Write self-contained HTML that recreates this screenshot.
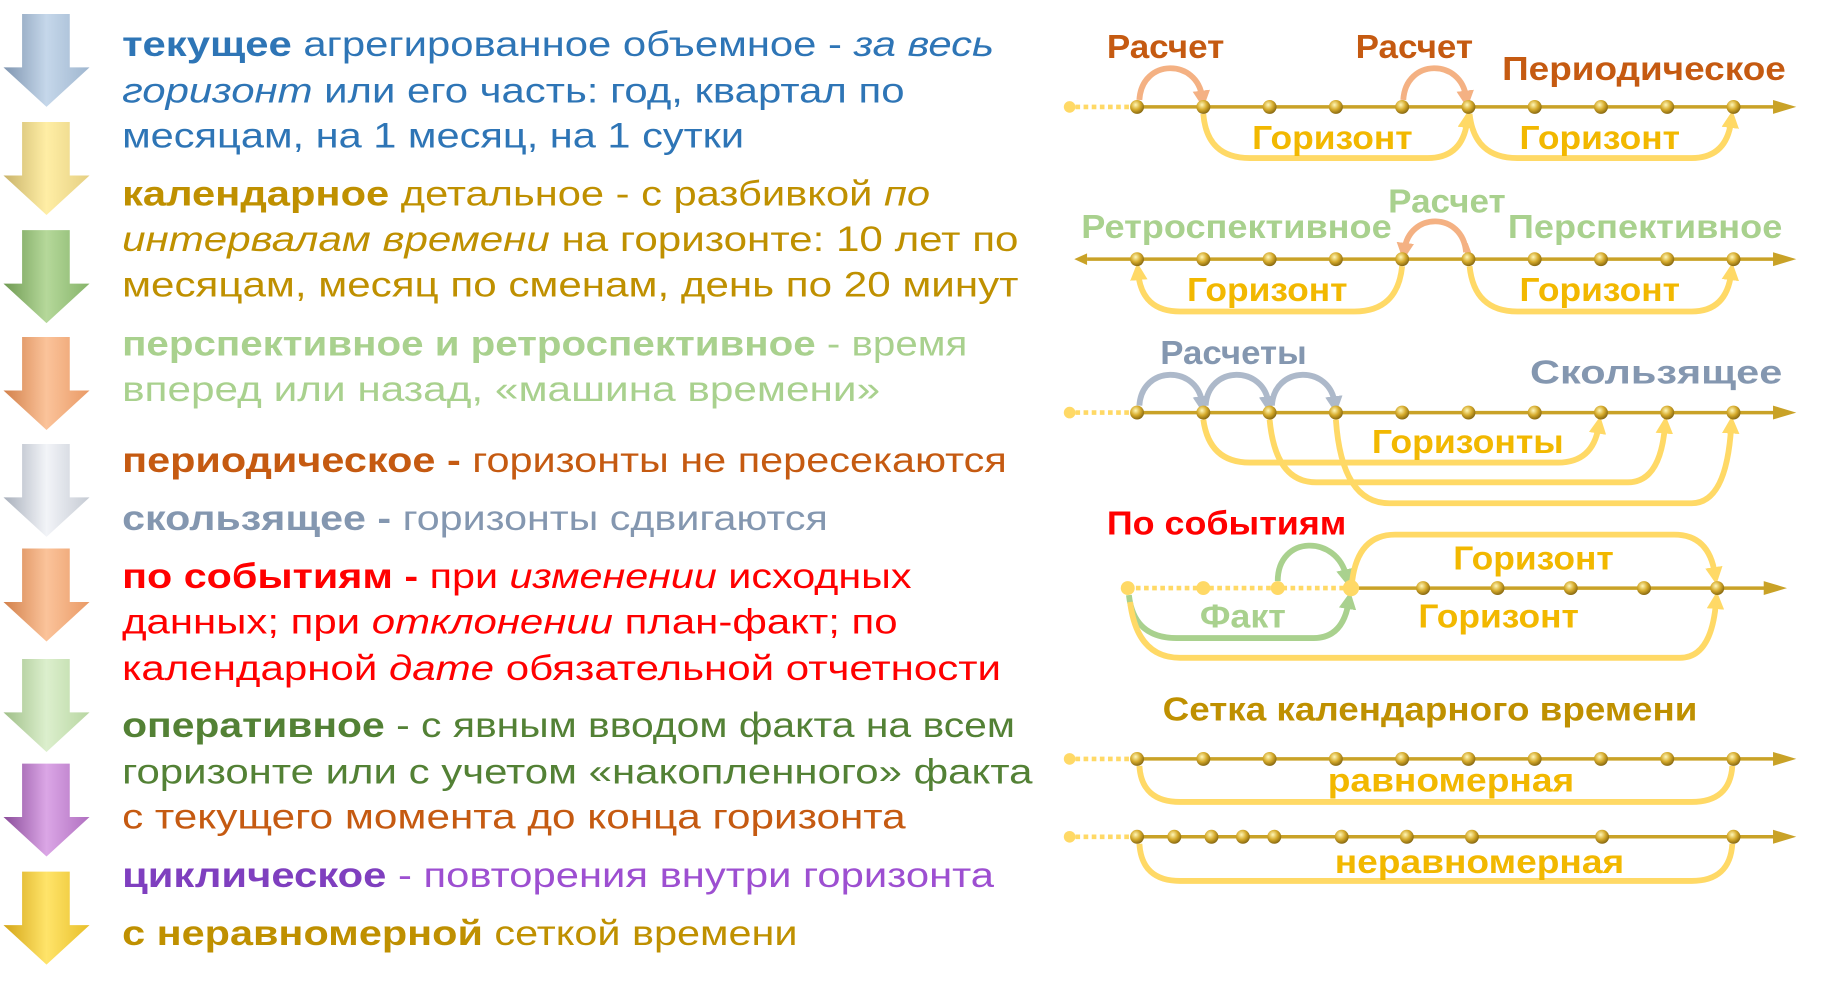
<!DOCTYPE html>
<html><head><meta charset="utf-8"><style>
html,body{margin:0;padding:0;background:#fff;width:1821px;height:986px;overflow:hidden}
svg{display:block}
text{font-family:"Liberation Sans",sans-serif}
.l{font-size:30px}
.r{font-size:29px;font-weight:bold}
</style></head><body>
<svg width="1821" height="986" viewBox="0 0 1560 845" preserveAspectRatio="none" xmlns="http://www.w3.org/2000/svg">
<defs>
<radialGradient id="bd" cx="0.4" cy="0.35" r="0.7"><stop offset="0" stop-color="#fff7b8"/><stop offset="0.5" stop-color="#d6ab2c"/><stop offset="1" stop-color="#7d5f0c"/></radialGradient>
<marker id="my" markerWidth="3" markerHeight="3" refX="1.2" refY="1.5" orient="auto"><path d="M0,0 L3,1.5 L0,3z" fill="#ffd966"/></marker>
<marker id="mo" markerWidth="3" markerHeight="3" refX="1.2" refY="1.5" orient="auto"><path d="M0,0 L3,1.5 L0,3z" fill="#f4b183"/></marker>
<marker id="mg" markerWidth="3" markerHeight="3" refX="1.2" refY="1.5" orient="auto"><path d="M0,0 L3,1.5 L0,3z" fill="#a9d18e"/></marker>
<marker id="mb" markerWidth="3" markerHeight="3" refX="1.2" refY="1.5" orient="auto"><path d="M0,0 L3,1.5 L0,3z" fill="#adb9ca"/></marker>
<linearGradient id="g1" x1="0" x2="1"><stop offset="0" stop-color="#7f95b0"/><stop offset="0.5" stop-color="#c5d7ea"/><stop offset="1" stop-color="#9fb6cf"/></linearGradient>
<linearGradient id="g2" x1="0" x2="1"><stop offset="0" stop-color="#c9b36a"/><stop offset="0.5" stop-color="#ffeea5"/><stop offset="1" stop-color="#e5cf82"/></linearGradient>
<linearGradient id="g3" x1="0" x2="1"><stop offset="0" stop-color="#6f9a52"/><stop offset="0.5" stop-color="#b5d89a"/><stop offset="1" stop-color="#86b46a"/></linearGradient>
<linearGradient id="g4" x1="0" x2="1"><stop offset="0" stop-color="#d2804a"/><stop offset="0.5" stop-color="#fbc39a"/><stop offset="1" stop-color="#e99a66"/></linearGradient>
<linearGradient id="g5" x1="0" x2="1"><stop offset="0" stop-color="#a8afbb"/><stop offset="0.5" stop-color="#f2f4f8"/><stop offset="1" stop-color="#c5cad3"/></linearGradient>
<linearGradient id="g6" x1="0" x2="1"><stop offset="0" stop-color="#9fbf88"/><stop offset="0.5" stop-color="#dcefcd"/><stop offset="1" stop-color="#b8d6a2"/></linearGradient>
<linearGradient id="g7" x1="0" x2="1"><stop offset="0" stop-color="#8a4c9a"/><stop offset="0.5" stop-color="#dba6e6"/><stop offset="1" stop-color="#b070c0"/></linearGradient>
<linearGradient id="g8" x1="0" x2="1"><stop offset="0" stop-color="#d4a516"/><stop offset="0.5" stop-color="#ffe46a"/><stop offset="1" stop-color="#e8bf2a"/></linearGradient>
<path id="arr" d="M19,0 L60,0 L60,46 L77,46 L40,80 L3,46 L19,46 Z"/>
</defs>
<g transform="scale(0.996)">
<!-- left arrows -->
<use href="#arr" x="0" y="12" fill="url(#g1)"/>
<use href="#arr" x="0" y="105" fill="url(#g2)"/>
<use href="#arr" x="0" y="198" fill="url(#g3)"/>
<use href="#arr" x="0" y="290" fill="url(#g4)"/>
<use href="#arr" x="0" y="382" fill="url(#g5)"/>
<use href="#arr" x="0" y="472" fill="url(#g4)"/>
<use href="#arr" x="0" y="567" fill="url(#g6)"/>
<use href="#arr" x="0" y="657" fill="url(#g7)"/>
<use href="#arr" x="0" y="750" fill="url(#g8)"/>

<!-- left text -->
<g class="l">
<text x="105" y="48" fill="#2e75b6" textLength="750" lengthAdjust="spacingAndGlyphs"><tspan font-weight="bold">текущее</tspan> агрегированное объемное - <tspan font-style="italic">за весь</tspan></text>
<text x="105" y="88" fill="#2e75b6" textLength="673" lengthAdjust="spacingAndGlyphs"><tspan font-style="italic">горизонт</tspan> или его часть: год, квартал по</text>
<text x="105" y="127" fill="#2e75b6" textLength="535" lengthAdjust="spacingAndGlyphs">месяцам, на 1 месяц, на 1 сутки</text>
<text x="105" y="177" fill="#bf9000" textLength="695" lengthAdjust="spacingAndGlyphs"><tspan font-weight="bold">календарное</tspan> детальное - с разбивкой <tspan font-style="italic">по</tspan></text>
<text x="105" y="216" fill="#bf9000" textLength="771" lengthAdjust="spacingAndGlyphs"><tspan font-style="italic">интервалам времени</tspan> на горизонте: 10 лет по</text>
<text x="105" y="255" fill="#bf9000" textLength="771" lengthAdjust="spacingAndGlyphs">месяцам, месяц по сменам, день по 20 минут</text>
<text x="105" y="306" fill="#a9d18e" textLength="727" lengthAdjust="spacingAndGlyphs"><tspan font-weight="bold">перспективное и ретроспективное</tspan> - время</text>
<text x="105" y="345" fill="#a9d18e" textLength="652" lengthAdjust="spacingAndGlyphs">вперед или назад, «машина времени»</text>
<text x="105" y="406" fill="#c55a11" textLength="761" lengthAdjust="spacingAndGlyphs"><tspan font-weight="bold">периодическое -</tspan> горизонты не пересекаются</text>
<text x="105" y="456" fill="#8497b0" textLength="607" lengthAdjust="spacingAndGlyphs"><tspan font-weight="bold">скользящее -</tspan> горизонты сдвигаются</text>
<text x="105" y="506" fill="#ff0000" textLength="679" lengthAdjust="spacingAndGlyphs"><tspan font-weight="bold">по событиям -</tspan> при <tspan font-style="italic">изменении</tspan> исходных</text>
<text x="105" y="545" fill="#ff0000" textLength="667" lengthAdjust="spacingAndGlyphs">данных; при <tspan font-style="italic">отклонении</tspan> план-факт; по</text>
<text x="105" y="585" fill="#ff0000" textLength="756" lengthAdjust="spacingAndGlyphs">календарной <tspan font-style="italic">дате</tspan> обязательной отчетности</text>
<text x="105" y="634" fill="#538135" textLength="768" lengthAdjust="spacingAndGlyphs"><tspan font-weight="bold">оперативное</tspan> - с явным вводом факта на всем</text>
<text x="105" y="674" fill="#538135" textLength="783" lengthAdjust="spacingAndGlyphs">горизонте или с учетом «накопленного» факта</text>
<text x="105" y="713" fill="#c55a11" textLength="674" lengthAdjust="spacingAndGlyphs">с текущего момента до конца горизонта</text>
<text x="105" y="763" fill="#9d4fd1" textLength="750" lengthAdjust="spacingAndGlyphs"><tspan font-weight="bold" fill="#7f3fbf">циклическое</tspan> - повторения внутри горизонта</text>
<text x="105" y="813" fill="#bf9000" textLength="581" lengthAdjust="spacingAndGlyphs"><tspan font-weight="bold">с неравномерной</tspan> сеткой времени</text>
</g>

<!-- ROW 1 -->
<g>
<line x1="925" y1="92" x2="978" y2="92" stroke="#ffd966" stroke-width="4" stroke-dasharray="4,3"/>
<circle cx="920" cy="92" r="5" fill="#ffd966"/>
<line x1="978" y1="92" x2="1535" y2="92" stroke="#c9a227" stroke-width="3"/>
<path d="M1525,86 L1545,92 L1525,98 Z" fill="#c9a227"/>
<path d="M980,86 C982,50 1030,50 1034,84" fill="none" stroke="#f4b183" stroke-width="5" marker-end="url(#mo)"/>
<path d="M1207,86 C1209,50 1257,50 1261,84" fill="none" stroke="#f4b183" stroke-width="5" marker-end="url(#mo)"/>
<path d="M1035,98 Q1038,136 1075,136 L1228,136 Q1258,136 1262,104" fill="none" stroke="#ffd966" stroke-width="5" marker-end="url(#my)"/>
<path d="M1264,98 Q1268,136 1305,136 L1455,136 Q1485,136 1489,104" fill="none" stroke="#ffd966" stroke-width="5" marker-end="url(#my)"/>
<g fill="url(#bd)"><circle cx="978" cy="92" r="6"/><circle cx="1035" cy="92" r="6"/><circle cx="1092" cy="92" r="6"/><circle cx="1149" cy="92" r="6"/><circle cx="1206" cy="92" r="6"/><circle cx="1263" cy="92" r="6"/><circle cx="1320" cy="92" r="6"/><circle cx="1377" cy="92" r="6"/><circle cx="1434" cy="92" r="6"/><circle cx="1491" cy="92" r="6"/></g>
<text class="r" x="952" y="50" fill="#c55a11" textLength="101" lengthAdjust="spacingAndGlyphs">Расчет</text>
<text class="r" x="1166" y="50" fill="#c55a11" textLength="101" lengthAdjust="spacingAndGlyphs">Расчет</text>
<text class="r" x="1292" y="69" fill="#c55a11" textLength="244" lengthAdjust="spacingAndGlyphs">Периодическое</text>
<text class="r" x="1077" y="128" fill="#f2b800" textLength="138" lengthAdjust="spacingAndGlyphs">Горизонт</text>
<text class="r" x="1307" y="128" fill="#f2b800" textLength="138" lengthAdjust="spacingAndGlyphs">Горизонт</text>
</g>

<!-- ROW 2 -->
<g>
<line x1="935" y1="223" x2="1535" y2="223" stroke="#c9a227" stroke-width="3"/>
<path d="M1525,217 L1545,223 L1525,229 Z" fill="#c9a227"/>
<path d="M935,218 L924,223 L935,228 Z" fill="#c9a227"/>
<path d="M1261,217 C1258,182 1212,182 1208,215" fill="none" stroke="#f4b183" stroke-width="5" marker-end="url(#mo)"/>
<path d="M1260,210 L1263,218" stroke="#f4b183" stroke-width="5"/>
<path d="M1206,229 Q1202,268 1165,268 L1015,268 Q982,268 979,235" fill="none" stroke="#ffd966" stroke-width="5" marker-end="url(#my)"/>
<path d="M1264,229 Q1268,268 1305,268 L1455,268 Q1485,268 1489,235" fill="none" stroke="#ffd966" stroke-width="5" marker-end="url(#my)"/>
<g fill="url(#bd)"><circle cx="978" cy="223" r="6"/><circle cx="1035" cy="223" r="6"/><circle cx="1092" cy="223" r="6"/><circle cx="1149" cy="223" r="6"/><circle cx="1206" cy="223" r="6"/><circle cx="1263" cy="223" r="6"/><circle cx="1320" cy="223" r="6"/><circle cx="1377" cy="223" r="6"/><circle cx="1434" cy="223" r="6"/><circle cx="1491" cy="223" r="6"/></g>
<text class="r" x="930" y="205" fill="#a9d18e" textLength="267" lengthAdjust="spacingAndGlyphs">Ретроспективное</text>
<text class="r" x="1194" y="183" fill="#a9d18e" textLength="101" lengthAdjust="spacingAndGlyphs">Расчет</text>
<text class="r" x="1297" y="205" fill="#a9d18e" textLength="236" lengthAdjust="spacingAndGlyphs">Перспективное</text>
<text class="r" x="1021" y="259" fill="#f2b800" textLength="138" lengthAdjust="spacingAndGlyphs">Горизонт</text>
<text class="r" x="1307" y="259" fill="#f2b800" textLength="138" lengthAdjust="spacingAndGlyphs">Горизонт</text>
</g>

<!-- ROW 3 -->
<g>
<line x1="925" y1="355" x2="978" y2="355" stroke="#ffd966" stroke-width="4" stroke-dasharray="4,3"/>
<circle cx="920" cy="355" r="5" fill="#ffd966"/>
<line x1="978" y1="355" x2="1535" y2="355" stroke="#c9a227" stroke-width="3"/>
<path d="M1525,349 L1545,355 L1525,361 Z" fill="#c9a227"/>
<path d="M980,349 C982,314 1030,314 1034,347" fill="none" stroke="#adb9ca" stroke-width="5" marker-end="url(#mb)"/>
<path d="M1037,349 C1039,314 1087,314 1091,347" fill="none" stroke="#adb9ca" stroke-width="5" marker-end="url(#mb)"/>
<path d="M1094,349 C1096,314 1144,314 1148,347" fill="none" stroke="#adb9ca" stroke-width="5" marker-end="url(#mb)"/>
<path d="M1035,361 Q1040,398 1075,398 L1340,398 Q1370,398 1375,367" fill="none" stroke="#ffd966" stroke-width="5" marker-end="url(#my)"/>
<path d="M1092,361 Q1097,415 1132,415 L1400,415 Q1428,415 1432,367" fill="none" stroke="#ffd966" stroke-width="5" marker-end="url(#my)"/>
<path d="M1149,361 Q1154,433 1195,433 L1455,433 Q1485,433 1489,367" fill="none" stroke="#ffd966" stroke-width="5" marker-end="url(#my)"/>
<g fill="url(#bd)"><circle cx="978" cy="355" r="6"/><circle cx="1035" cy="355" r="6"/><circle cx="1092" cy="355" r="6"/><circle cx="1149" cy="355" r="6"/><circle cx="1206" cy="355" r="6"/><circle cx="1263" cy="355" r="6"/><circle cx="1320" cy="355" r="6"/><circle cx="1377" cy="355" r="6"/><circle cx="1434" cy="355" r="6"/><circle cx="1491" cy="355" r="6"/></g>
<text class="r" x="998" y="313" fill="#8497b0" textLength="126" lengthAdjust="spacingAndGlyphs">Расчеты</text>
<text class="r" x="1316" y="330" fill="#8497b0" textLength="217" lengthAdjust="spacingAndGlyphs">Скользящее</text>
<text class="r" x="1180" y="390" fill="#f2b800" textLength="165" lengthAdjust="spacingAndGlyphs">Горизонты</text>
</g>

<!-- ROW 4 -->
<g>
<line x1="970" y1="506" x2="1162" y2="506" stroke="#ffd966" stroke-width="4" stroke-dasharray="4,3"/>
<line x1="1162" y1="506" x2="1525" y2="506" stroke="#c9a227" stroke-width="3"/>
<path d="M1517,500 L1537,506 L1517,512 Z" fill="#c9a227"/>
<path d="M1099,500 C1099,460 1150,460 1158,496" fill="none" stroke="#a9d18e" stroke-width="5" marker-end="url(#mg)"/>
<path d="M971,512 Q975,549 1012,549 L1130,549 Q1155,549 1160,518" fill="none" stroke="#a9d18e" stroke-width="5" marker-end="url(#mg)"/>
<path d="M1163,500 Q1168,460 1200,460 L1440,460 Q1470,460 1475,494" fill="none" stroke="#ffd966" stroke-width="5" marker-end="url(#my)"/>
<path d="M972,518 Q978,566 1015,566 L1445,566 Q1472,566 1476,518" fill="none" stroke="#ffd966" stroke-width="5" marker-end="url(#my)"/>
<g fill="#ffd966"><circle cx="970" cy="506" r="6"/><circle cx="1035" cy="506" r="6"/><circle cx="1099" cy="506" r="6"/><circle cx="1162" cy="506" r="7"/></g>
<g fill="url(#bd)"><circle cx="1224" cy="506" r="6"/><circle cx="1288" cy="506" r="6"/><circle cx="1351" cy="506" r="6"/><circle cx="1414" cy="506" r="6"/><circle cx="1477" cy="506" r="6"/></g>
<text class="r" x="952" y="460" fill="#ff0000" textLength="206" lengthAdjust="spacingAndGlyphs">По событиям</text>
<text class="r" x="1250" y="490" fill="#f2b800" textLength="138" lengthAdjust="spacingAndGlyphs">Горизонт</text>
<text class="r" x="1032" y="540" fill="#a9d18e" textLength="74" lengthAdjust="spacingAndGlyphs">Факт</text>
<text class="r" x="1220" y="540" fill="#f2b800" textLength="138" lengthAdjust="spacingAndGlyphs">Горизонт</text>
</g>

<!-- ROW 5 -->
<g>
<text class="r" x="1000" y="620" fill="#bf9000" textLength="460" lengthAdjust="spacingAndGlyphs">Сетка календарного времени</text>
<line x1="925" y1="653" x2="978" y2="653" stroke="#ffd966" stroke-width="4" stroke-dasharray="4,3"/>
<circle cx="920" cy="653" r="5" fill="#ffd966"/>
<line x1="978" y1="653" x2="1535" y2="653" stroke="#c9a227" stroke-width="3"/>
<path d="M1525,647 L1545,653 L1525,659 Z" fill="#c9a227"/>
<path d="M980,659 Q982,690 1015,690 L1455,690 Q1488,690 1490,659" fill="none" stroke="#ffd966" stroke-width="5"/>
<g fill="url(#bd)"><circle cx="978" cy="653" r="6"/><circle cx="1035" cy="653" r="6"/><circle cx="1092" cy="653" r="6"/><circle cx="1149" cy="653" r="6"/><circle cx="1206" cy="653" r="6"/><circle cx="1263" cy="653" r="6"/><circle cx="1320" cy="653" r="6"/><circle cx="1377" cy="653" r="6"/><circle cx="1434" cy="653" r="6"/><circle cx="1491" cy="653" r="6"/></g>
<text class="r" x="1142" y="681" fill="#f2b800" textLength="212" lengthAdjust="spacingAndGlyphs">равномерная</text>
</g>

<!-- ROW 6 -->
<g>
<line x1="925" y1="720" x2="978" y2="720" stroke="#ffd966" stroke-width="4" stroke-dasharray="4,3"/>
<circle cx="920" cy="720" r="5" fill="#ffd966"/>
<line x1="978" y1="720" x2="1535" y2="720" stroke="#c9a227" stroke-width="3"/>
<path d="M1525,714 L1545,720 L1525,726 Z" fill="#c9a227"/>
<path d="M980,726 Q982,758 1015,758 L1455,758 Q1488,758 1490,726" fill="none" stroke="#ffd966" stroke-width="5"/>
<g fill="url(#bd)"><circle cx="978" cy="720" r="6"/><circle cx="1010" cy="720" r="6"/><circle cx="1042" cy="720" r="6"/><circle cx="1069" cy="720" r="6"/><circle cx="1096" cy="720" r="6"/><circle cx="1154" cy="720" r="6"/><circle cx="1210" cy="720" r="6"/><circle cx="1266" cy="720" r="6"/><circle cx="1378" cy="720" r="6"/><circle cx="1491" cy="720" r="6"/></g>
<text class="r" x="1148" y="751" fill="#f2b800" textLength="249" lengthAdjust="spacingAndGlyphs">неравномерная</text>
</g>
</g>
</svg>
</body></html>
